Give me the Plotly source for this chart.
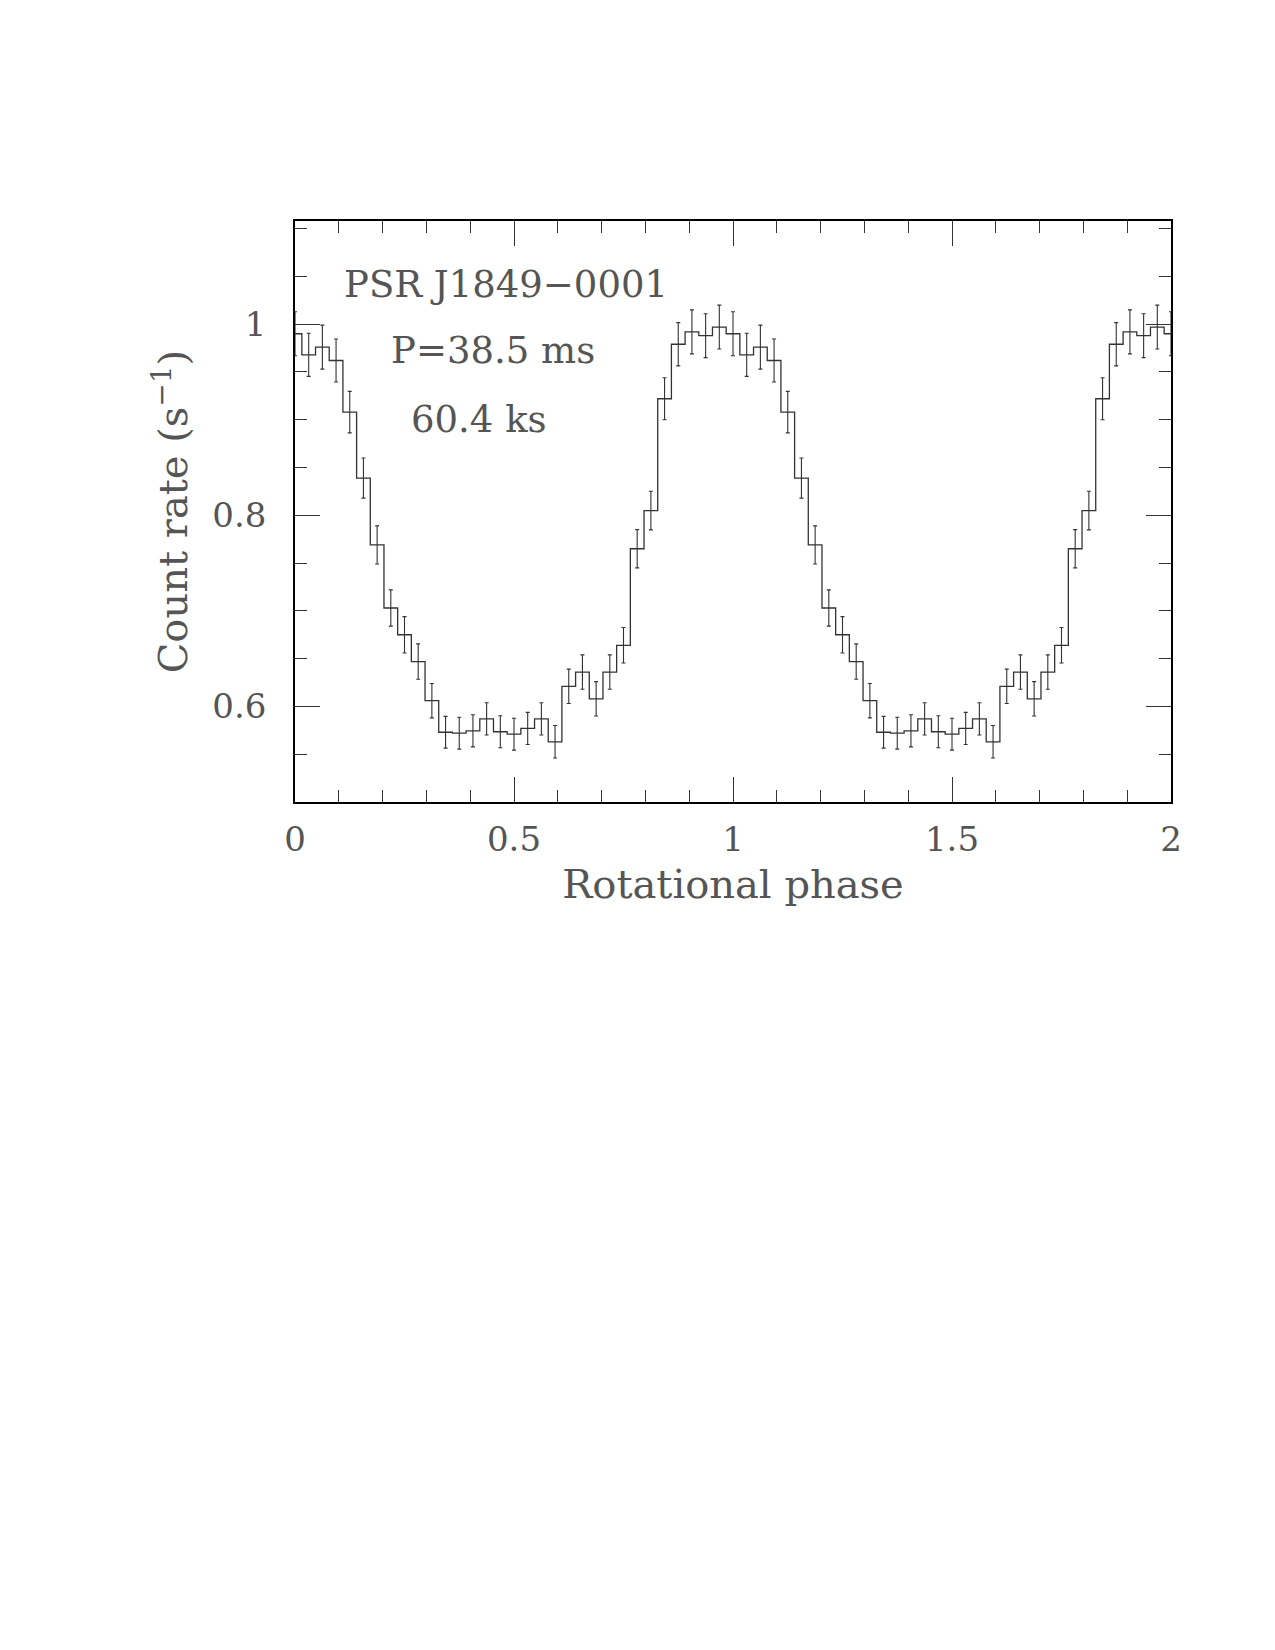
import plotly.graph_objects as go

# Bin centres: rotational phase k/32, k = 0..64 (two cycles)
phase = [k / 32 for k in range(65)]

count_rate = [
    0.990, 0.968, 0.976, 0.962, 0.908, 0.839, 0.769, 0.703,
    0.675, 0.647, 0.606, 0.573, 0.572, 0.5745, 0.587, 0.5735,
    0.571, 0.577, 0.587, 0.563, 0.621, 0.636, 0.608, 0.636,
    0.664, 0.765, 0.805, 0.922, 0.979, 0.992, 0.988, 0.997,
    0.990, 0.968, 0.976, 0.962, 0.908, 0.839, 0.769, 0.703,
    0.675, 0.647, 0.606, 0.573, 0.572, 0.5745, 0.587, 0.5735,
    0.571, 0.577, 0.587, 0.563, 0.621, 0.636, 0.608, 0.636,
    0.664, 0.765, 0.805, 0.922, 0.979, 0.992, 0.988, 0.997,
    0.990,
]

count_err = [
    0.023, 0.0226, 0.023, 0.0225, 0.0217, 0.021, 0.020, 0.019,
    0.019, 0.0185, 0.018, 0.0166, 0.0167, 0.0168, 0.0169, 0.0167,
    0.0167, 0.0168, 0.0169, 0.017, 0.018, 0.018, 0.018, 0.018,
    0.0186, 0.020, 0.0202, 0.022, 0.0226, 0.023, 0.023, 0.023,
    0.023, 0.0226, 0.023, 0.0225, 0.0217, 0.021, 0.020, 0.019,
    0.019, 0.0185, 0.018, 0.0166, 0.0167, 0.0168, 0.0169, 0.0167,
    0.0167, 0.0168, 0.0169, 0.017, 0.018, 0.018, 0.018, 0.018,
    0.0186, 0.020, 0.0202, 0.022, 0.0226, 0.023, 0.023, 0.023,
    0.023,
]

labels = ["PSR J1849\u22120001", "P=38.5 ms", "60.4 ks"]
label_x = [0.482, 0.452, 0.421]
label_y = [1.042, 0.973, 0.900]

FONT = "DejaVu Serif"
TEXT_COLOR = "#555555"
LINE_COLOR = "#333333"

fig = go.Figure()

# Error bars (no line)
fig.add_trace(go.Scatter(
    x=phase, y=count_rate, mode="markers",
    marker=dict(size=0.1, color=LINE_COLOR, opacity=0),
    error_y=dict(type="data", array=count_err, visible=True,
                 color=LINE_COLOR, thickness=1.1, width=2),
    showlegend=False, hoverinfo="skip",
))

# Histogram step line
fig.add_trace(go.Scatter(
    x=phase, y=count_rate, mode="lines",
    line=dict(shape="hvh", color=LINE_COLOR, width=1.3),
    showlegend=False,
))

for t, x, y in zip(labels, label_x, label_y):
    fig.add_annotation(x=x, y=y, xref="x", yref="y", text=t, showarrow=False,
                       font=dict(family=FONT, size=37, color=TEXT_COLOR),
                       xanchor="center", yanchor="middle")

axis_common = dict(
    showgrid=False, zeroline=False, showline=True, linecolor="black",
    linewidth=1.5, mirror="allticks", ticks="inside", tickcolor="#333333",
    tickwidth=1.1, tickfont=dict(family=FONT, size=34, color=TEXT_COLOR),
)

fig.update_xaxes(
    range=[0, 2], dtick=0.5, tick0=0, ticklen=25,
    minor=dict(dtick=0.1, ticklen=12, ticks="inside", tickcolor="#333333", tickwidth=1.1),
    title=dict(text="Rotational phase", font=dict(family=FONT, size=40, color=TEXT_COLOR), standoff=12),
    ticklabelstandoff=6,
    **axis_common,
)
fig.update_yaxes(
    range=[0.5, 1.108], dtick=0.2, tick0=0, ticklen=25,
    minor=dict(dtick=0.05, ticklen=12, ticks="inside", tickcolor="#333333", tickwidth=1.1),
    title=dict(text="Count rate (s<sup>\u22121</sup>)", font=dict(family=FONT, size=40, color=TEXT_COLOR), standoff=12),
    ticklabelstandoff=20,
    **axis_common,
)

fig.update_layout(
    width=1275, height=1650,
    margin=dict(l=295, r=104, t=221, b=848, pad=0),
    paper_bgcolor="white", plot_bgcolor="white",
    showlegend=False,
)

fig.write_html("out.html")
